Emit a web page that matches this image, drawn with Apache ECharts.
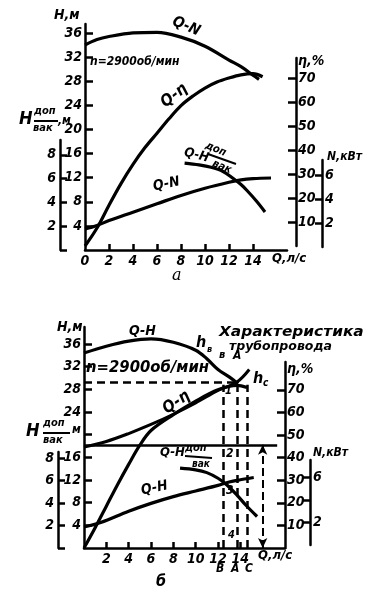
<!DOCTYPE html>
<html><head><meta charset="utf-8">
<script src="https://cdn.jsdelivr.net/npm/echarts@6/dist/echarts.min.js"></script>
<style>html,body{margin:0;padding:0;background:#fff}#c{width:391px;height:597px}</style>
</head><body><div id="c"></div>
<script>
// ---- panel а ----
const qHeadA = [0,1,2,4,6,8,10,12,13,14,14.5];
const headA  = [34,34.9,35.4,36,36.1,35.3,33.8,31.5,30.4,29.0,28.3];
const qEffA  = [0,1,2,3,4,5,6,7,8,9,10,11,12,13,14,14.8];
const effA   = [0,7.5,17,26,34,41,47,53,58.5,62.5,65.8,68.3,70,71.3,71.8,70.5];
const qPowA  = [0,1,2,4,6,8,10,12,13,14,15.5];
const powA   = [1.5,1.8,2.2,2.9,3.6,4.3,4.9,5.4,5.6,5.7,5.75];
const qVacA  = [8.3,9.5,10.5,11.5,12.3,13,13.5,14.3,15];
const vacA   = [7.3,7.15,6.95,6.6,6.05,5.5,5.0,4.1,3.2];
// ---- panel б ----
const qHeadB = [0,2,4,6,8,10,11,12,13,13.8];
const headB  = [34.4,35.6,36.5,36.9,36.3,34.9,33.4,31.5,30.2,29.0];
const qPipeB = [0,2,4,6,8,10,12,13.7,14.8];
const pipeB  = [17.8,18.8,20.2,21.8,23.6,25.6,27.8,29.3,31.5];
const qEffB  = [0,1,2,3,4,5,6,8,10,12,13.7,14.6];
const effB   = [0,9,18.5,28,37,45.5,52,59,65,70,72,71];
const qPowB  = [0,1.5,4,6,8,10,12,13,14,15.2];
const powB   = [1.6,2.0,3.0,3.7,4.3,4.8,5.3,5.6,5.8,6.0];
const qVacB  = [8.6,10,11,12,12.8,13.7,14.5,15.5];
const vacB   = [7.1,6.95,6.7,6.2,5.6,4.7,3.8,2.8];
const staticHeadB = 18.2;
const staticLineEndQ = 17.3;
const arrowQ = 16;
const pointQB = 12.5, pointQA = 13.7, pointQC = 14.6;
const headAtA = 29.3;
const dashTop = 28.8;
// ---- tick labels ----
const xLabelsA = [0,2,4,6,8,10,12,14];
const xTicksA = [2,4,6,8,10,12,14];
const xLabelsB = [2,4,6,8,10,12,14];
const hLabelsA = [4,8,12,16,20,24,28,32,36];
const hLabelsB = [4,8,12,16,24,28,32,36];
const hTicksB = [4,8,12,16,20,24,28,32,36];
const effLabels = [10,20,30,40,50,60,70];
const powLabelsA = [2,4,6];
const powLabelsB = [2,6];
const powTicks = [2,4,6];
const vacLabels = [2,4,6,8];
const vacTicks = [0,2,4,6,8];

const FF = "'DejaVu Sans Condensed','DejaVu Sans',sans-serif";
const K = '#000';
const lbl = (size) => ({color:K, fontFamily:FF, fontWeight:'bold', fontStyle:'italic', fontSize:size});

function xAx(grid, max, show, labels, ticks){
  return {gridIndex:grid, type:'value', min:0, max:max, interval:2, show:show,
    axisLine:{show:true, lineStyle:{color:K, width:2.5}},
    axisTick:{show:true, inside:true, length:6, lineStyle:{color:K, width:2.5}, customValues:ticks},
    axisLabel:Object.assign(lbl(14), {margin:4, customValues:labels,
      formatter:(v)=> labels.indexOf(v)>=0 ? String(v) : ''}),
    splitLine:{show:false}};
}
function yAx(grid, pos, offset, max, interval, labels, ticks, margin, tickLen){
  return {gridIndex:grid, type:'value', position:pos, offset:offset, min:0, max:max, interval:interval,
    axisLine:{show:true, onZero:false, lineStyle:{color:K, width:2.5}},
    axisTick:{show:true, inside:true, length:tickLen, lineStyle:{color:K, width:2.5}, customValues:ticks},
    axisLabel:Object.assign(lbl(14), {margin:margin, customValues:labels,
      formatter:(v)=> labels.indexOf(v)>=0 ? String(v) : ''}),
    splitLine:{show:false}};
}
function curve(xs, ys, gi, w){
  return {type:'line', xAxisIndex:gi, yAxisIndex:gi, data:xs.map((q,i)=>[q,ys[i]]),
    smooth:0.35, symbol:'none', silent:true, lineStyle:{color:K, width:w||3}, z:3};
}
function T(x,y,text,size,extra){
  return Object.assign({type:'text', x:x, y:y, z:10, silent:true,
    style:{text:text, fill:K, fontFamily:FF, fontWeight:'bold', fontStyle:'italic', fontSize:size,
      align:'left', verticalAlign:'top'}}, extra||{});
}
function L(x1,y1,x2,y2){
  return {type:'line', silent:true, z:10, shape:{x1:x1,y1:y1,x2:x2,y2:y2}, style:{stroke:K,lineWidth:2}};
}

const grids = [
  {left:85, top:24, width:202, height:226},
  {left:85, top:58, width:202, height:188},
  {left:85, top:160, width:202, height:87},
  {left:85, top:140, width:202, height:110},
  {left:84, top:327, width:201, height:221},
  {left:84, top:362, width:201, height:186},
  {left:84, top:460, width:201, height:85},
  {left:84, top:452, width:201, height:96}
].map(g=>Object.assign(g,{containLabel:false, outerBoundsMode:'none'}));

const xAxes = [];
for(let i=0;i<8;i++){
  const top = i<4;
  xAxes.push(xAx(i, top ? 202/12 : 18, (i===0 || i===4), top?xLabelsA:xLabelsB, top?xTicksA:xLabelsB));
}
const yAxes = [
  yAx(0,'left',0,226/6.03,4,hLabelsA,hLabelsA,3,8),
  yAx(1,'right',9,188/2.4,10,effLabels,effLabels,2,8),
  yAx(2,'right',35,87/12,2,powLabelsA,powTicks,3,7),
  yAx(3,'left',25,110/11.9,2,vacLabels,vacTicks,4,7),
  yAx(4,'left',0,39,4,hLabelsB,hTicksB,3,8),
  yAx(5,'right',0,186/2.26,10,effLabels,effLabels,2,8),
  yAx(6,'right',25,85/11.25,2,powLabelsB,powTicks,3,7),
  yAx(7,'left',26,96/11.25,2,vacLabels,vacTicks,4,7)
];

const dashed = {color:K, width:2.5, type:[8,5]};
const solid = {color:K, width:2.5, type:'solid'};
const pipe = curve(qPipeB, pipeB, 4, 3);
pipe.markLine = {silent:true, animation:false, symbol:'none', label:{show:false},
  emphasis:{disabled:true},
  data:[
    [{coord:[0,staticHeadB], lineStyle:solid},{coord:[staticLineEndQ,staticHeadB]}],
    [{coord:[arrowQ,0], lineStyle:{color:K,width:2}, symbol:'arrow', symbolSize:[7,10]},
     {coord:[arrowQ,staticHeadB], symbol:'arrow', symbolSize:[7,10]}],
    [{coord:[0,headAtA], lineStyle:dashed},{coord:[pointQA,headAtA]}],
    [{coord:[pointQB,0], lineStyle:dashed},{coord:[pointQB,dashTop]}],
    [{coord:[pointQA,0], lineStyle:dashed},{coord:[pointQA,dashTop]}],
    [{coord:[pointQC,0], lineStyle:dashed},{coord:[pointQC,dashTop]}]
  ]};

const series = [
  curve(qHeadA, headA, 0, 3.2),
  curve(qEffA, effA, 1, 3.2),
  curve(qPowA, powA, 2, 3.2),
  curve(qVacA, vacA, 3, 3.2),
  curve(qHeadB, headB, 4, 3.2),
  pipe,
  curve(qEffB, effB, 5, 3.2),
  curve(qPowB, powB, 6, 3.2),
  curve(qVacB, vacB, 7, 3.2)
];

const graphic = [
  // panel а
  T(54,8,'H,м',14),
  T(90,56,'n=2900об/мин',12),
  T(176,14,'Q-N',15,{rotation:-0.4}),
  T(158,98,'Q-η',16,{rotation:0.65}),
  T(298,54,'η,%',14),
  T(186,146,'Q-H',13,{rotation:-0.25}),
  T(208,140,'доп',11,{rotation:-0.4}),
  L(208,154,236,164),
  T(215,158,'вак',11,{rotation:-0.4}),
  T(152,180,'Q-N',14,{rotation:0.2}),
  T(327,151,'N,кВт',12),
  T(19,110,'H',18),
  T(34,106,'доп',11),
  L(34,121,58,121),
  T(33,123,'вак',11),
  T(58,115,',м',12),
  T(272,252,'Q,л/с',13),
  {type:'text', x:172, y:268, z:10, silent:true, style:{text:'a', fill:K, fontFamily:'DejaVu Serif', fontStyle:'italic', fontSize:16, align:'left', verticalAlign:'top'}},
  // panel б
  T(57,320,'H,м',14),
  T(129,324,'Q-H',14),
  T(86,361,'n=2900об/мин',15,{scaleX:1.1}),
  T(196,335,'h',16),
  T(207,345,'в',9),
  T(219,350,'в',11),
  T(233,350,'A',12),
  T(253,371,'h',16),
  T(263,378,'c',10),
  T(219,325,'Характеристика',14,{scaleX:1.22}),
  T(229,340,'трубопровода',13,{scaleX:1.07}),
  T(160,404,'Q-η',16,{rotation:0.6}),
  T(287,362,'η,%',14),
  T(160,446,'Q-H',13),
  T(185,443,'доп',11),
  L(185,456,212,458),
  T(192,459,'вак',10),
  T(140,484,'Q-H',14,{rotation:0.2}),
  T(313,447,'N,кВт',12),
  T(26,422,'H',18),
  T(43,418,'доп',11),
  L(43,433,70,433),
  T(43,435,'вак',11),
  T(72,424,'м',12),
  T(225,386,'1',11),
  T(226,448,'2',12),
  T(226,485,'3',12),
  T(228,530,'4',11),
  T(258,549,'Q,л/с',13),
  T(216,563,'В',12),
  T(231,563,'А',12),
  T(245,563,'С',12),
  T(156,574,'б',16)
];

const chart = echarts.init(document.getElementById('c'), null, {renderer:'canvas'});
chart.setOption({
  backgroundColor:'#fff', animation:false,
  grid:grids, xAxis:xAxes, yAxis:yAxes, series:series, graphic:graphic
});
</script></body></html>
